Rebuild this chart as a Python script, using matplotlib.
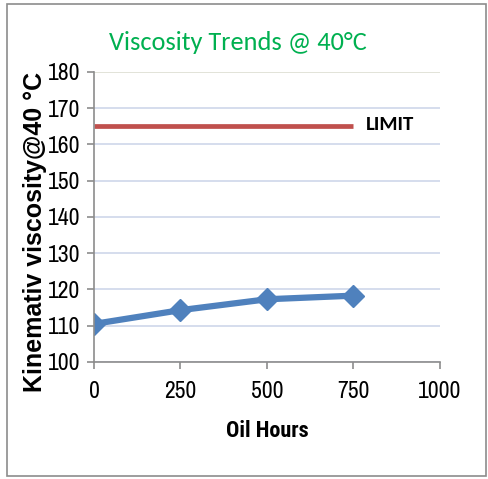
import numpy as np
import matplotlib.pyplot as plt
from matplotlib.patches import Rectangle

# oil sample results
oil_hours = [0, 250, 500, 750]
viscosity = [110.5, 114.3, 117.3, 118.3]

# limit line
limit_hours = [0, 750]
limit_value = [165, 165]

x_ticks = [0, 250, 500, 750, 1000]
y_ticks = [100, 110, 120, 130, 140, 150, 160, 170, 180]

fig = plt.figure(figsize=(4.89, 4.79), dpi=100)
ax = fig.add_axes([0.1922, 0.2443, 0.7076, 0.6054])

# outer chart border
fig.patches.append(Rectangle((0.015, 0.006), 0.978, 0.986, transform=fig.transFigure,
                             fill=False, edgecolor='#8c8c8c', linewidth=1.2))

ax.plot(limit_hours, limit_value, color='#c0504d', linewidth=3.4, solid_capstyle='butt')
ax.plot(oil_hours, viscosity, color='#4f81bd', linewidth=4.5, marker='D',
        markersize=11, markeredgecolor='#4f81bd')
ax.text(785, 165.5, 'LIMIT', fontsize=15, family='Carlito', fontweight='bold',
        va='center', ha='left')

ax.set_xlim(0, 1000)
ax.set_ylim(100, 180)
ax.set_xticks(x_ticks)
ax.set_yticks(y_ticks)
ax.grid(axis='y', color='#d5dded', linewidth=1.4)
ax.get_ygridlines()[-1].set_color('#e2e3d8')
ax.set_axisbelow(True)

for s in ['top', 'right']:
    ax.spines[s].set_visible(False)
for s in ['left', 'bottom']:
    ax.spines[s].set_color('#8c8c8c')
    ax.spines[s].set_linewidth(1.2)
ax.tick_params(direction='out', length=5, color='#8c8c8c', width=1.2, pad=5)
ax.tick_params(axis='x', pad=9)
for lbl in ax.get_xticklabels() + ax.get_yticklabels():
    lbl.set_family('Archivo Narrow')
    lbl.set_fontsize(17)

ax.set_xlabel('Oil Hours', family='Roboto Condensed', fontweight='bold',
              fontsize=16, labelpad=13)
ax.set_ylabel('Kinemativ viscosity@40 °C', family='Liberation Sans',
              fontweight='bold', fontsize=18)
ax.yaxis.set_label_coords(-0.135, 0.45)

fig.text(0.487, 0.912, 'Viscosity Trends @ 40°C', color='#00b050', family='Carlito',
         fontsize=19, ha='center', va='center')

fig.savefig('out.png', dpi=100)
